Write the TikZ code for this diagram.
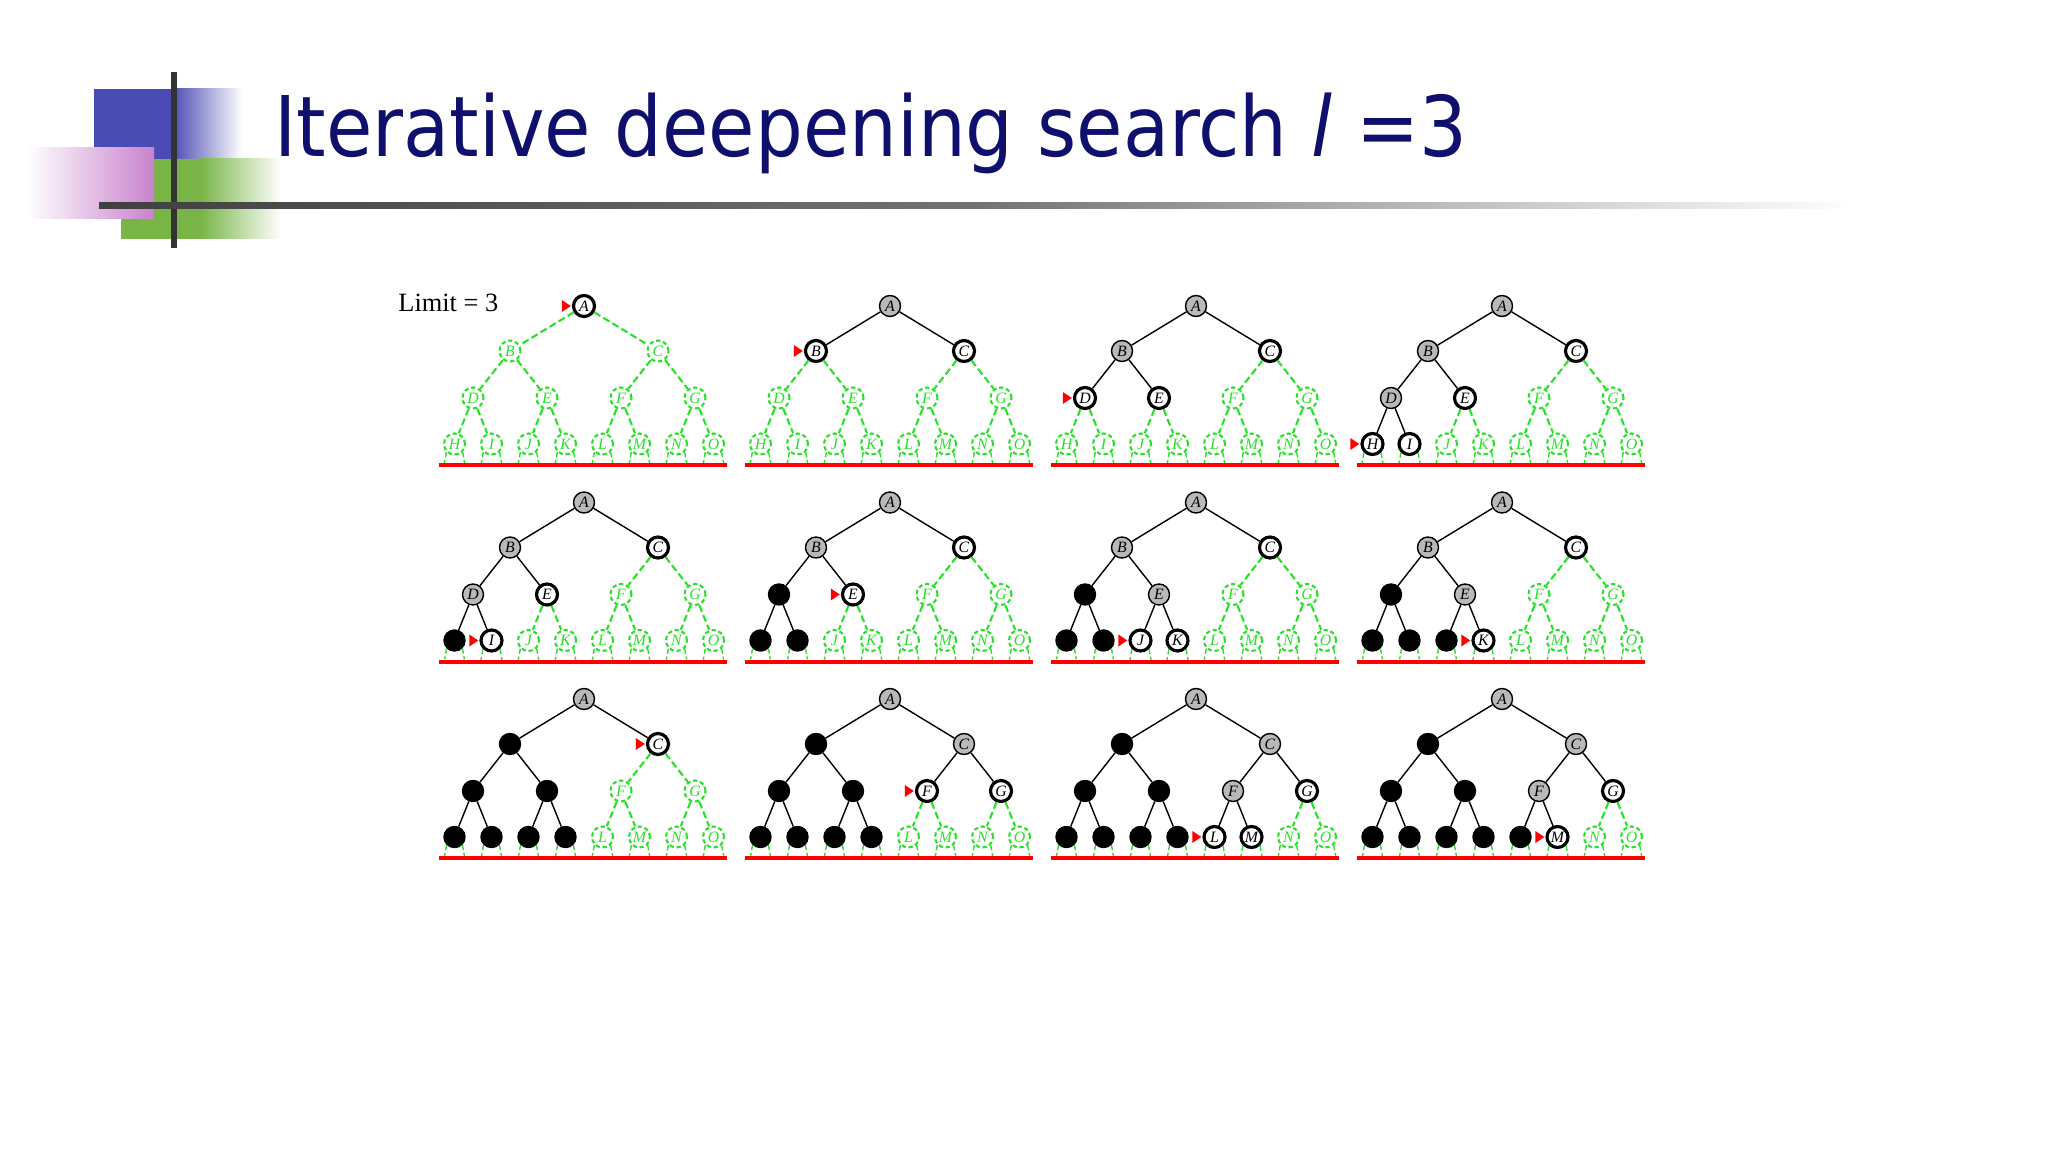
\documentclass[tikz,border=0pt]{standalone}
\usepackage{fontspec}
\setmainfont{Liberation Serif}
\newfontfamily\titlefont{DejaVu Sans Condensed}
\definecolor{grn}{RGB}{40,225,40}
\definecolor{navy}{RGB}{15,15,110}
\definecolor{blu}{RGB}{75,75,180}
\definecolor{pnk}{RGB}{200,130,205}
\definecolor{gre}{RGB}{120,180,70}
\tikzset{
  tn/.style={circle,minimum size=0.21cm,inner sep=0pt,font=\fontsize{4.5}{4.5}\selectfont\itshape},
  st-g/.style={tn,draw=grn,dash pattern=on 1.2pt off 0.8pt,text=grn,semithick},
  st-r/.style={tn,draw=black,fill=gray!55,thin},
  st-w/.style={tn,draw=black,fill=white,line width=0.9pt},
  st-k/.style={tn,draw=black,fill=black,text=black},
  ed-g/.style={draw=grn,dash pattern=on 2pt off 1pt,semithick},
  ed-r/.style={draw=black,thin},
  ed-w/.style={draw=black,thin},
  ed-k/.style={draw=black,thin},
}
\newcommand\drawtree[5]{% x, y, codes, marker index, id
 \begin{scope}[shift={(#1,#2)}]
  \foreach \c [count=\i] in {#3}{\expandafter\xdef\csname tst\i\endcsname{\c}}
  \foreach \n/\xx/\yy [count=\i] in {A/0/0,B/-74/45,C/74/45,D/-111/92,E/-37/92,F/37/92,G/111/92,
     H/-129.5/138,I/-92.5/138,J/-55.5/138,K/-18.5/138,L/18.5/138,M/55.5/138,N/92.5/138,O/129.5/138}{
    \node[st-\csname tst\i\endcsname] (p#5n\i) at (\xx,\yy) {\n};
  }
  \foreach \i in {2,...,15}{
    \pgfmathtruncatemacro\parnt{floor(\i/2)}
    \draw[ed-\csname tst\i\endcsname] (p#5n\parnt) -- (p#5n\i);
  }
  \foreach \i in {8,...,15}{
    \draw[grn,thin,dash pattern=on 1.5pt off 0.8pt] (p#5n\i.south west) -- ++(-2,11);
    \draw[grn,thin,dash pattern=on 1.5pt off 0.8pt] (p#5n\i.south east) -- ++(2,11);
  }
  \fill[red] (-145,157) rectangle (143,161);
  \fill[red] ([xshift=-0.3pt]p#5n#4.west) -- ++(-9,6) -- ++(0,-12) -- cycle;
 \end{scope}}
\begin{document}
\begin{tikzpicture}[x=0.01cm,y=-0.01cm]
\useasboundingbox (0,0) rectangle (2048,1152);
\fill[white] (0,0) rectangle (2048,1152);
% decoration
\fill[blu] (94,89) rectangle (172,159);
\shade[left color=blu,right color=white] (172,89) rectangle (242,159);
\fill[gre] (121,159) rectangle (200,239);
\shade[left color=gre,right color=white] (200,159) rectangle (281,239);
\shade[left color=white,right color=pnk] (27,148) rectangle (154,219);
\fill[black!80] (171,72) rectangle (177,248);
\shade[left color=black!75,right color=white,middle color=black!55] (99,203) rectangle (1855,209);
\node[anchor=base west,text=navy,font=\titlefont\fontsize{23.8}{24}\selectfont] (title) at (262,157)
  {Iterative deepening search \textit{l} =3};
\node[anchor=base west,font=\fontsize{7.5}{8}\selectfont] (lim) at (386,312) {Limit = 3};
\drawtree{584}{306}{w,g,g,g,g,g,g,g,g,g,g,g,g,g,g}{1}{a}
\drawtree{890}{306}{r,w,w,g,g,g,g,g,g,g,g,g,g,g,g}{2}{b}
\drawtree{1196}{306}{r,r,w,w,w,g,g,g,g,g,g,g,g,g,g}{4}{c}
\drawtree{1502}{306}{r,r,w,r,w,g,g,w,w,g,g,g,g,g,g}{8}{d}
\drawtree{584}{502.5}{r,r,w,r,w,g,g,k,w,g,g,g,g,g,g}{9}{e}
\drawtree{890}{502.5}{r,r,w,k,w,g,g,k,k,g,g,g,g,g,g}{5}{f}
\drawtree{1196}{502.5}{r,r,w,k,r,g,g,k,k,w,w,g,g,g,g}{10}{g}
\drawtree{1502}{502.5}{r,r,w,k,r,g,g,k,k,k,w,g,g,g,g}{11}{h}
\drawtree{584}{699}{r,k,w,k,k,g,g,k,k,k,k,g,g,g,g}{3}{i}
\drawtree{890}{699}{r,k,r,k,k,w,w,k,k,k,k,g,g,g,g}{6}{j}
\drawtree{1196}{699}{r,k,r,k,k,r,w,k,k,k,k,w,w,g,g}{12}{k}
\drawtree{1502}{699}{r,k,r,k,k,r,w,k,k,k,k,k,w,g,g}{13}{l}
\end{tikzpicture}
\end{document}
